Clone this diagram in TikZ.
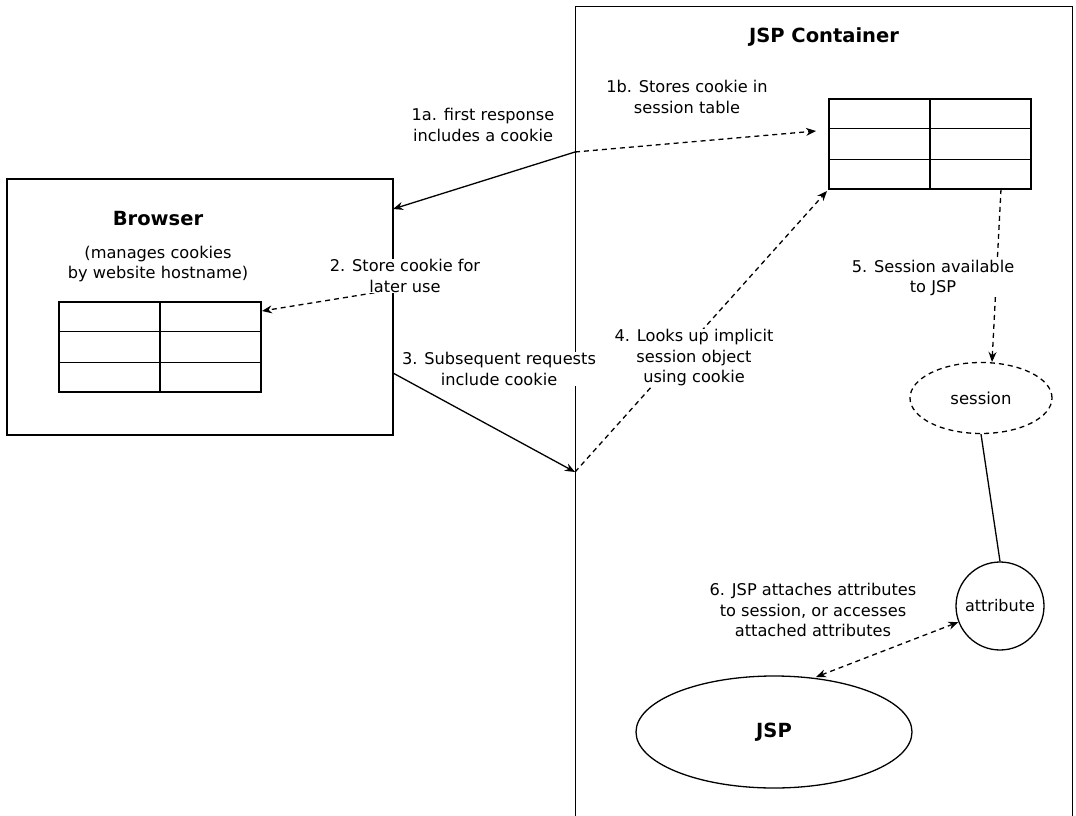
\documentclass[tikz,border=0pt]{standalone}
\usepackage{fontspec}
\setmainfont{DejaVu Sans}
\usetikzlibrary{arrows.meta,shapes.geometric,calc}

\tikzset{
  lbl/.style={align=center, font=\fontsize{16.2}{20.5}\selectfont, inner sep=0.5pt},
  wlbl/.style={lbl, fill=white},
  ttl/.style={font=\fontsize{19.5}{24}\selectfont\bfseries},
  tbl/.style={draw, minimum width=202pt, minimum height=90pt, inner sep=0pt},
  conn/.style={-{Stealth[length=10pt,width=8pt]}},
  dsh/.style={dash pattern=on 5pt off 4pt},
}

\begin{document}
\begin{tikzpicture}[x=1pt, y=-1pt, line width=1.3pt]
\useasboundingbox (0,0) rectangle (1076,816);

% boxes
\node[draw, anchor=north west, minimum width=497pt, minimum height=840pt, inner sep=0pt] (cont) at (575,6) {};
\node[draw, minimum width=386pt, minimum height=256pt, inner sep=0pt] (browser) at (200,307) {};

% titles
\node[ttl] (conttitle) at (824,37) {JSP Container};
\node[ttl] (brtitle) at (158,219) {Browser};
\node[lbl] (brnote) at (158,264) {(manages cookies\\by website hostname)};

% the two tables
\node[tbl] (btab) at (160,347) {};
\node[tbl] (ctab) at (930,144) {};
\foreach \t in {btab,ctab} {
  \draw (\t.north) -- (\t.south);
  \foreach \f in {1/3,2/3}
    \draw ($(\t.north west)!\f!(\t.south west)$) -- ($(\t.north east)!\f!(\t.south east)$);
}

% session, attribute, JSP
\node[draw, dsh, ellipse, minimum width=142pt, minimum height=71pt, inner sep=0pt, font=\fontsize{16.5}{20}\selectfont] (session) at (981,398) {session};
\node[draw, circle, minimum size=88pt, inner sep=0pt, font=\fontsize{16}{20}\selectfont] (attr) at (1000,606) {attribute};
\node[draw, ellipse, minimum width=276pt, minimum height=112pt, inner sep=0pt, ttl] (jsp) at (774,732) {JSP};

% connector ends
\coordinate (c1) at (575,152);
\coordinate (b1) at (393,209);
\coordinate (t1) at (816,131);
\coordinate (s2) at (410,287);
\coordinate (t2) at (262,311);
\coordinate (b3) at (393,373);
\coordinate (c3) at (575,472);
\coordinate (t4) at (827,191);
\coordinate (t5) at (1001,189);
\coordinate (s5) at (992,362);
\coordinate (j6) at (816,677);

% connectors
\draw[conn] (c1) -- (b1);
\draw[conn, dsh] (c1) -- (t1);
\draw[conn, dsh] (s2) -- (t2);
\draw[conn, dsh] (c3) -- (t4);
\draw[conn, dsh] (t5) -- (s5);
\draw (session.south) -- (attr.north);
\draw[{Stealth[length=10pt,width=8pt]}-{Stealth[length=10pt,width=8pt]}, dsh] (j6) -- (attr);

% labels
\node[lbl] (l1a) at (483,125) {1a. first response\\includes a cookie};
\node[lbl] (l1b) at (687,97) {1b. Stores cookie in\\session table};
\node[wlbl] (l2) at (405,276) {2. Store cookie for\\later use};
\node[wlbl] (l3) at (499,369) {3. Subsequent requests\\include cookie};
\node[wlbl] (l4) at (694,358) {4. Looks up implicit\\session object\\using cookie};
\node[wlbl] (l5) at (933,278) {5. Session available\\to JSP};
\node[lbl] (l6) at (813,610) {6. JSP attaches attributes\\to session, or accesses\\attached attributes};

% request arrow goes over its label box
\draw[conn] (b3) -- (c3);

\end{tikzpicture}
\end{document}
